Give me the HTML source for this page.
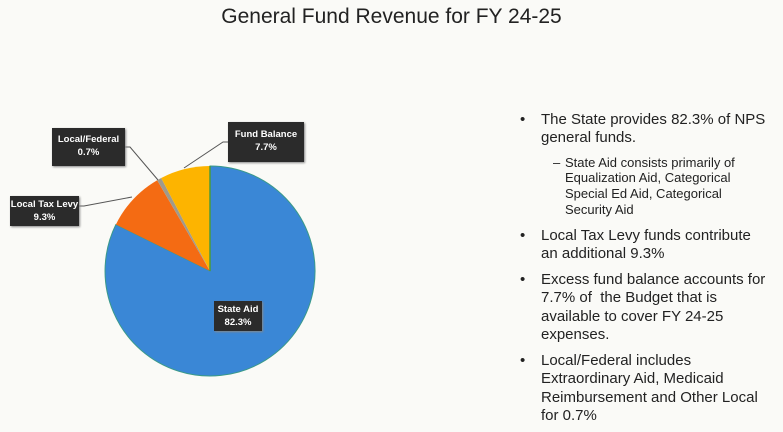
<!DOCTYPE html>
<html><head><meta charset="utf-8"><style>
body{margin:0;width:783px;height:432px;background:#fafaf7;overflow:hidden;position:relative;font-family:"Liberation Sans",sans-serif;}
.t{position:absolute;white-space:nowrap;color:#222;font-size:15px;line-height:18px;}
.s{position:absolute;white-space:nowrap;color:#222;font-size:13px;line-height:15px;}
.b{position:absolute;font-size:15px;color:#222;line-height:18px;}
.lab{position:absolute;background:#2b2b2b;color:#fff;font-size:9.5px;font-weight:bold;text-align:center;line-height:13px;box-shadow:1px 1px 2px #888;}
</style></head><body>
<div style="position:absolute;top:5px;left:0;width:783px;text-align:center;font-size:21px;color:#222;">General Fund Revenue for FY 24-25</div>
<svg width="783" height="432" style="position:absolute;left:0;top:0">
<path d="M210,271 L210,166 A105,105 0 1 1 115.9,224.5 Z" fill="#3a87d6" stroke="#3a9a8a" stroke-width="1"/>
<path d="M210,271 L115.9,224.5 A105,105 0 0 1 157.2,180.2 Z" fill="#f46b13"/>
<path d="M210,271 L157.2,180.2 A105,105 0 0 1 161.2,178 Z" fill="#a09a8c"/>
<path d="M210,271 L161.2,178 A105,105 0 0 1 210,166 Z" fill="#fdb400"/>
<line x1="210" y1="166" x2="210" y2="271" stroke="#4a9a3a" stroke-width="1.5"/>
<g stroke="#555" stroke-width="1" fill="none">
<polyline points="228,142 223,142 184,168"/>
<polyline points="125,147 130,147 158,180"/>
<polyline points="79,206 84,206 132,197"/>
</g>
</svg>
<div class="lab" style="left:52px;top:128px;width:73px;height:38px;padding-top:5px;box-sizing:border-box">Local/Federal<br>0.7%</div>
<div class="lab" style="left:228px;top:122px;width:76px;height:40px;padding-top:6px;box-sizing:border-box">Fund Balance<br>7.7%</div>
<div class="lab" style="left:10px;top:196px;width:69px;height:30px;padding-top:2px;box-sizing:border-box">Local Tax Levy<br>9.3%</div>
<div class="lab" style="left:214px;top:301px;width:48px;height:30px;padding-top:2px;box-sizing:border-box">State Aid<br>82.3%</div>

<div class="b" style="left:520px;top:111px">•</div>
<div class="t" style="left:541px;top:111px">The State provides 82.3% of NPS</div>
<div class="t" style="left:541px;top:129px">general funds.</div>
<div class="s" style="left:553px;top:155px">–</div>
<div class="s" style="left:565px;top:155px">State Aid consists primarily of</div>
<div class="s" style="left:565px;top:170px">Equalization Aid, Categorical</div>
<div class="s" style="left:565px;top:186px">Special Ed Aid, Categorical</div>
<div class="s" style="left:565px;top:202px">Security Aid</div>
<div class="b" style="left:520px;top:227px">•</div>
<div class="t" style="left:541px;top:227px">Local Tax Levy funds contribute</div>
<div class="t" style="left:541px;top:245px">an additional 9.3%</div>
<div class="b" style="left:520px;top:271px">•</div>
<div class="t" style="left:541px;top:271px">Excess fund balance accounts for</div>
<div class="t" style="left:541px;top:289px">7.7% of&nbsp; the Budget that is</div>
<div class="t" style="left:541px;top:308px">available to cover FY 24-25</div>
<div class="t" style="left:541px;top:326px">expenses.</div>
<div class="b" style="left:520px;top:352px">•</div>
<div class="t" style="left:541px;top:352px">Local/Federal includes</div>
<div class="t" style="left:541px;top:370px">Extraordinary Aid, Medicaid</div>
<div class="t" style="left:541px;top:389px">Reimbursement and Other Local</div>
<div class="t" style="left:541px;top:407px">for 0.7%</div>
</body></html>
